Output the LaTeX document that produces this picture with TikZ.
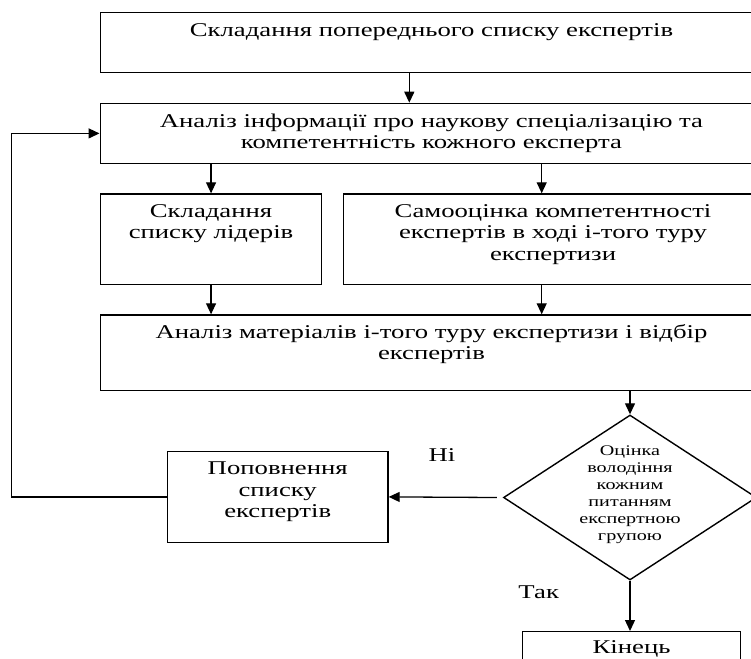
\documentclass[tikz,border=0pt]{standalone}
\usepackage{fontspec}
\setmainfont{Liberation Serif}[FakeStretch=1.37]
\usetikzlibrary{arrows.meta,shapes.geometric}
\newcommand\mainsz{\fontsize{19.5pt}{21.3pt}\selectfont}
\newcommand\dsz{\fontsize{14.7pt}{17pt}\selectfont}
\newcommand\bxt[4]{\begin{minipage}[t][#2][t]{#1}\centering\rule{0pt}{#3}#4\end{minipage}}
\begin{document}
\begin{tikzpicture}[x=1pt,y=-1pt,
  every node/.style={font=\mainsz},
  box/.style={draw, line width=1.4pt, inner sep=0pt},
  arr/.style={line width=1.3pt, -{Triangle[length=11pt,width=10pt]}},
  lbl/.style={anchor=base, inner sep=0pt}]
\useasboundingbox (0,0) rectangle (751,658);
\clip (0,0) rectangle (751,658);
\node[box, anchor=north west] (b1) at (99.5,11.7) {\bxt{662.5pt}{60pt}{24pt}{Складання попереднього списку експертів}};
\node[box, anchor=north west] (b2) at (99.5,102.7) {\bxt{662.5pt}{60pt}{24pt}{Аналіз інформації про наукову спеціалізацію та\\компетентність кожного експерта}};
\node[box, anchor=north west] (b3) at (100,193.3) {\bxt{220.7pt}{90.7pt}{23.4pt}{Складання\\списку лідерів}};
\node[box, anchor=north west] (b4) at (342.7,193.3) {\bxt{419.3pt}{90.7pt}{23.4pt}{Самооцінка компетентності\\експертів в ході і-того туру\\експертизи}};
\node[box, anchor=north west] (b5) at (99.5,314.3) {\bxt{662.5pt}{75.7pt}{23pt}{Аналіз матеріалів і-того туру експертизи і відбір\\експертів}};
\node[box, diamond, minimum width=253pt, minimum height=165pt] (d) at (630,497.5) {};
\node[inner sep=0pt, anchor=north, font=\dsz] (dt) at (630,440) {\begin{minipage}{150pt}\centering\rule{0pt}{15pt}Оцінка\\володіння\\кожним\\питанням\\експертною\\групою\end{minipage}};
\node[box, anchor=north west] (p) at (166.7,450.7) {\bxt{220.6pt}{91pt}{23.3pt}{Поповнення\\списку\\експертів}};
\node[box, anchor=north west] (k) at (521.7,631) {\bxt{218.3pt}{60pt}{22pt}{Кінець}};
\node[lbl] (ni) at (442,461) {Ні};
\node[lbl] (tak) at (538.7,598.3) {Так};
\coordinate (lp) at (11.7,300);
\draw[arr] ([xshift=309.8pt]b1.south west) -- ([xshift=309.8pt]b2.north west);
\draw[arr] (b2.south -| b3.north) -- (b3.north);
\draw[arr] ([xshift=442.2pt]b2.south west) -- ([xshift=199pt]b4.north west);
\draw[arr] (b3.south) -- (b3.south |- b5.north);
\draw[arr] ([xshift=199pt]b4.south west) -- ([xshift=442.2pt]b5.north west);
\draw[arr] (b5.south -| d.north) -- (d.north);
\draw[arr] ([xshift=-6pt]d.west) -- (p.east);
\draw[arr] (p.west) -- (p.west -| lp) |- (b2.west);
\draw[arr] (d.south) -- (d.south |- k.north);
\end{tikzpicture}
\end{document}
